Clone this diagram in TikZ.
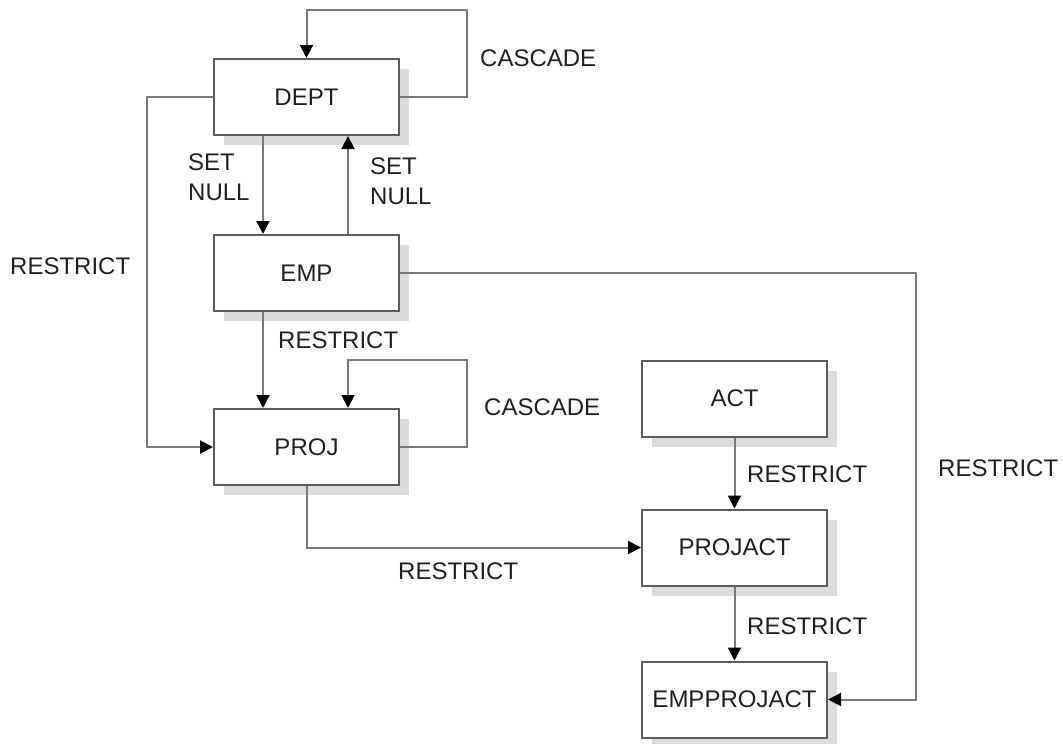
\documentclass[tikz,border=0pt]{standalone}
\usepackage{fontspec}
\setmainfont{Liberation Sans}
\usetikzlibrary{arrows.meta}
\definecolor{boxline}{HTML}{5C5C5C}
\definecolor{conline}{HTML}{787878}
\definecolor{shadowgray}{HTML}{DCDCDC}
\definecolor{txt}{HTML}{202020}
\tikzset{
  tbl/.style={draw=boxline, line width=2pt, fill=white, minimum width=185pt, minimum height=76pt,
    inner sep=0pt, font=\fontsize{24}{28}\selectfont, text=txt},
  shadowbox/.style={fill=shadowgray, draw=none, minimum width=185pt, minimum height=76pt, inner sep=0pt},
  conn/.style={draw=conline, line width=2pt, -{Triangle[length=13pt,width=13pt,fill=black,color=black]}},
  lbl/.style={font=\fontsize{24}{30}\selectfont, text=txt, inner sep=0pt, align=left, anchor=west},
}
\begin{document}
\begin{tikzpicture}[x=1pt,y=-1pt]
\useasboundingbox (0,0) rectangle (1063,744);
% shadows
\foreach \x/\y in {306.5/97, 306.5/273, 306.5/447, 734.5/398.5, 734.5/547.5, 734.5/699.5}
  \node[shadowbox] at (\x+10,\y+10) {};
% tables
\node[tbl] (DEPT) at (306.5,97) {DEPT};
\node[tbl] (EMP) at (306.5,273) {EMP};
\node[tbl] (PROJ) at (306.5,447) {PROJ};
\node[tbl] (ACT) at (734.5,398.5) {ACT};
\node[tbl] (PROJACT) at (734.5,547.5) {PROJACT};
\node[tbl] (EMPPROJACT) at (734.5,699.5) {EMPPROJACT};
% helper coordinates
\coordinate (dl) at (467,10);
\coordinate (lr) at (147,97);
\coordinate (er) at (916,273);
\coordinate (pl) at (467,360);
% connectors
\draw[conn] (DEPT.east) -| (dl) -| (DEPT.north);
\draw[conn] (DEPT.west) -- (lr) |- (PROJ.west);
\draw[conn] ([xshift=-43.5pt]DEPT.south) -- ([xshift=-43.5pt]EMP.north);
\draw[conn] ([xshift=41.5pt]EMP.north) -- ([xshift=41.5pt]DEPT.south);
\draw[conn] (EMP.east) -- (er) |- (EMPPROJACT.east);
\draw[conn] ([xshift=-43.5pt]EMP.south) -- ([xshift=-43.5pt]PROJ.north);
\draw[conn] (PROJ.east) -| (pl) -| ([xshift=41.5pt]PROJ.north);
\draw[conn] (PROJ.south) |- (PROJACT.west);
\draw[conn] (ACT.south) -- (PROJACT.north);
\draw[conn] (PROJACT.south) -- (EMPPROJACT.north);
% labels
\node[lbl] (l1) at (480,58) {CASCADE};
\node[lbl] (l2) at (188,177) {SET\\NULL};
\node[lbl] (l3) at (370,181) {SET\\NULL};
\node[lbl] (l4) at (10,266) {RESTRICT};
\node[lbl] (l5) at (278,340) {RESTRICT};
\node[lbl] (l6) at (484,407) {CASCADE};
\node[lbl] (l7) at (398,571) {RESTRICT};
\node[lbl] (l8) at (747,474) {RESTRICT};
\node[lbl] (l9) at (747,626) {RESTRICT};
\node[lbl] (l10) at (938,468) {RESTRICT};
\end{tikzpicture}
\end{document}
